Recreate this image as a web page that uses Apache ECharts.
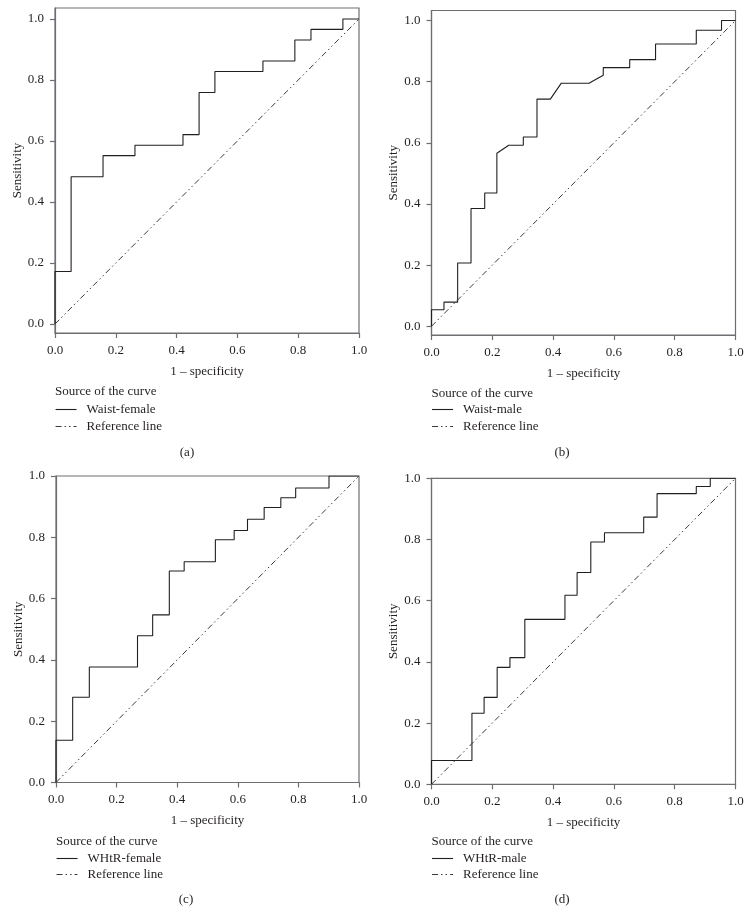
<!DOCTYPE html>
<html>
<head>
<meta charset="utf-8">
<script src="https://cdn.jsdelivr.net/npm/echarts@6/dist/echarts.min.js"></script>
<style>html,body{margin:0;padding:0;background:#fff}#c{width:752px;height:914px}</style>
</head>
<body>
<div id="c"></div>
<script>
// ---- Data ----
var xTicks = [0, 0.2, 0.4, 0.6, 0.8, 1.0];
var yTicks = [0, 0.2, 0.4, 0.6, 0.8, 1.0];
var refFpr = [0, 1];
var refTpr = [0, 1];

var waistFemaleFpr = [0, 0, 0.053, 0.053, 0.158, 0.158, 0.263, 0.263, 0.421, 0.421, 0.474, 0.474, 0.526, 0.526, 0.684, 0.684, 0.789, 0.789, 0.842, 0.842, 0.947, 0.947, 1];
var waistFemaleTpr = [0, 0.172, 0.172, 0.483, 0.483, 0.552, 0.552, 0.586, 0.586, 0.621, 0.621, 0.759, 0.759, 0.828, 0.828, 0.862, 0.862, 0.931, 0.931, 0.966, 0.966, 1, 1];

var waistMaleFpr = [0, 0, 0.041, 0.041, 0.086, 0.086, 0.130, 0.130, 0.175, 0.175, 0.215, 0.215, 0.254, 0.302, 0.302, 0.347, 0.347, 0.391, 0.427, 0.518, 0.565, 0.565, 0.652, 0.652, 0.737, 0.737, 0.871, 0.871, 0.954, 0.954, 1];
var waistMaleTpr = [0, 0.054, 0.054, 0.079, 0.079, 0.207, 0.207, 0.385, 0.385, 0.436, 0.436, 0.566, 0.592, 0.592, 0.619, 0.619, 0.743, 0.743, 0.795, 0.795, 0.821, 0.846, 0.846, 0.872, 0.872, 0.923, 0.923, 0.968, 0.968, 1, 1];

var whtrFemaleFpr = [0, 0, 0.055, 0.055, 0.110, 0.110, 0.269, 0.269, 0.319, 0.319, 0.374, 0.374, 0.423, 0.423, 0.526, 0.526, 0.588, 0.588, 0.632, 0.632, 0.687, 0.687, 0.742, 0.742, 0.791, 0.791, 0.901, 0.901, 1];
var whtrFemaleTpr = [0, 0.138, 0.138, 0.278, 0.278, 0.377, 0.377, 0.479, 0.479, 0.547, 0.547, 0.690, 0.690, 0.720, 0.720, 0.792, 0.792, 0.822, 0.822, 0.859, 0.859, 0.897, 0.897, 0.929, 0.929, 0.961, 0.961, 1, 1];

var whtrMaleFpr = [0, 0, 0.133, 0.133, 0.173, 0.173, 0.216, 0.216, 0.258, 0.258, 0.307, 0.307, 0.439, 0.439, 0.479, 0.479, 0.524, 0.524, 0.569, 0.569, 0.698, 0.698, 0.742, 0.742, 0.871, 0.871, 0.917, 0.917, 1];
var whtrMaleTpr = [0, 0.078, 0.078, 0.232, 0.232, 0.284, 0.284, 0.382, 0.382, 0.414, 0.414, 0.539, 0.539, 0.618, 0.618, 0.692, 0.692, 0.792, 0.792, 0.822, 0.822, 0.873, 0.873, 0.950, 0.950, 0.973, 0.973, 1, 1];

var curveNames = ['Waist-female', 'Waist-male', 'WHtR-female', 'WHtR-male'];
var panelLabels = ['(a)', '(b)', '(c)', '(d)'];
var legendTitle = 'Source of the curve';
var refName = 'Reference line';
var xName = '1 \u2013 specificity';
var yName = 'Sensitivity';

// ---- Layout / style ----
var FONT = '"Liberation Serif", "DejaVu Serif", serif';
var TXT = '#231f20';
var FRAME = '#6d6e71';
var panels = [
  {grid: {left: 55, top: 8, width: 304, height: 325}, yMin: -0.0295, yMax: 1.036, fpr: waistFemaleFpr, tpr: waistFemaleTpr,
   titleY: 392, legendTop: 402, legendGap: 2, labelX: 187, labelY: 453},
  {grid: {left: 431.5, top: 10.5, width: 304, height: 324.5}, yMin: -0.0285, yMax: 1.0327, fpr: waistMaleFpr, tpr: waistMaleTpr,
   titleY: 394, legendTop: 402, legendGap: 2, labelX: 562, labelY: 453},
  {grid: {left: 56, top: 476, width: 303, height: 306.5}, yMin: 0, yMax: 1, fpr: whtrFemaleFpr, tpr: whtrFemaleTpr,
   titleY: 842, legendTop: 851, legendGap: 1, labelX: 186, labelY: 900},
  {grid: {left: 431.5, top: 478.3, width: 304, height: 306}, yMin: 0, yMax: 1, fpr: whtrMaleFpr, tpr: whtrMaleTpr,
   titleY: 842, legendTop: 851, legendGap: 1, labelX: 562, labelY: 900}
];

function zip(a, b) { return a.map(function (v, i) { return [v, b[i]]; }); }
function fmt(v) { return Number(v).toFixed(1); }

var grids = [], xAxes = [], yAxes = [], series = [], legends = [], graphics = [];
panels.forEach(function (p, i) {
  grids.push(Object.assign({show: true, borderColor: FRAME, borderWidth: 1.2, backgroundColor: 'transparent'}, p.grid));
  xAxes.push({
    type: 'value', gridIndex: i, min: 0, max: 1, interval: 0.2,
    name: xName, nameLocation: 'middle', nameGap: 32,
    nameTextStyle: {fontFamily: FONT, fontSize: 13, color: TXT},
    axisLine: {show: true, onZero: false, lineStyle: {color: FRAME, width: 1.2}},
    axisTick: {show: true, length: 5, lineStyle: {color: FRAME, width: 1.2}},
    axisLabel: {formatter: fmt, margin: 11, fontFamily: FONT, fontSize: 13, color: TXT},
    splitLine: {show: false}
  });
  yAxes.push({
    type: 'value', gridIndex: i, min: p.yMin, max: p.yMax,
    name: yName, nameLocation: 'middle', nameGap: 31,
    nameTextStyle: {fontFamily: FONT, fontSize: 13, color: TXT},
    axisLine: {show: true, onZero: false, lineStyle: {color: FRAME, width: 1.2}},
    axisTick: {show: true, length: 5, customValues: yTicks, lineStyle: {color: FRAME, width: 1.2}},
    axisLabel: {formatter: fmt, margin: 11, customValues: yTicks, fontFamily: FONT, fontSize: 13, color: TXT},
    splitLine: {show: false}
  });
  series.push({
    name: curveNames[i], type: 'line', xAxisIndex: i, yAxisIndex: i,
    data: zip(p.fpr, p.tpr), symbol: 'none', animation: false,
    lineStyle: {color: '#231f20', width: 1.1}, itemStyle: {color: '#231f20'}
  });
  series.push({
    name: refName, type: 'line', xAxisIndex: i, yAxisIndex: i,
    data: zip(refFpr, refTpr), symbol: 'none', animation: false,
    lineStyle: {color: '#3a3a3a', width: 1, type: [6, 3, 1.5, 3, 1.5, 3]}, itemStyle: {color: '#3a3a3a'}
  });
  legends.push({
    orient: 'vertical', left: p.grid.left, top: p.legendTop, padding: 0,
    itemWidth: 21, itemHeight: 10, itemGap: p.legendGap, selectedMode: false,
    data: [curveNames[i], refName],
    itemStyle: {opacity: 0},
    lineStyle: {width: 1.1},
    textStyle: {fontFamily: FONT, fontSize: 13, color: TXT, lineHeight: 15, padding: [0, 0, 0, 5]}
  });
  graphics.push({
    type: 'text', x: p.grid.left, y: p.titleY,
    style: {text: legendTitle, font: '13px ' + FONT, fill: TXT, textAlign: 'left', textVerticalAlign: 'middle'}
  });
  graphics.push({
    type: 'text', x: p.labelX, y: p.labelY,
    style: {text: panelLabels[i], font: '13px ' + FONT, fill: TXT, textAlign: 'center', textVerticalAlign: 'middle'}
  });
});

var chart = echarts.init(document.getElementById('c'), null, {renderer: 'canvas'});
chart.setOption({
  backgroundColor: '#fff',
  animation: false,
  grid: grids, xAxis: xAxes, yAxis: yAxes,
  legend: legends, series: series, graphic: graphics
});
</script>
</body>
</html>
